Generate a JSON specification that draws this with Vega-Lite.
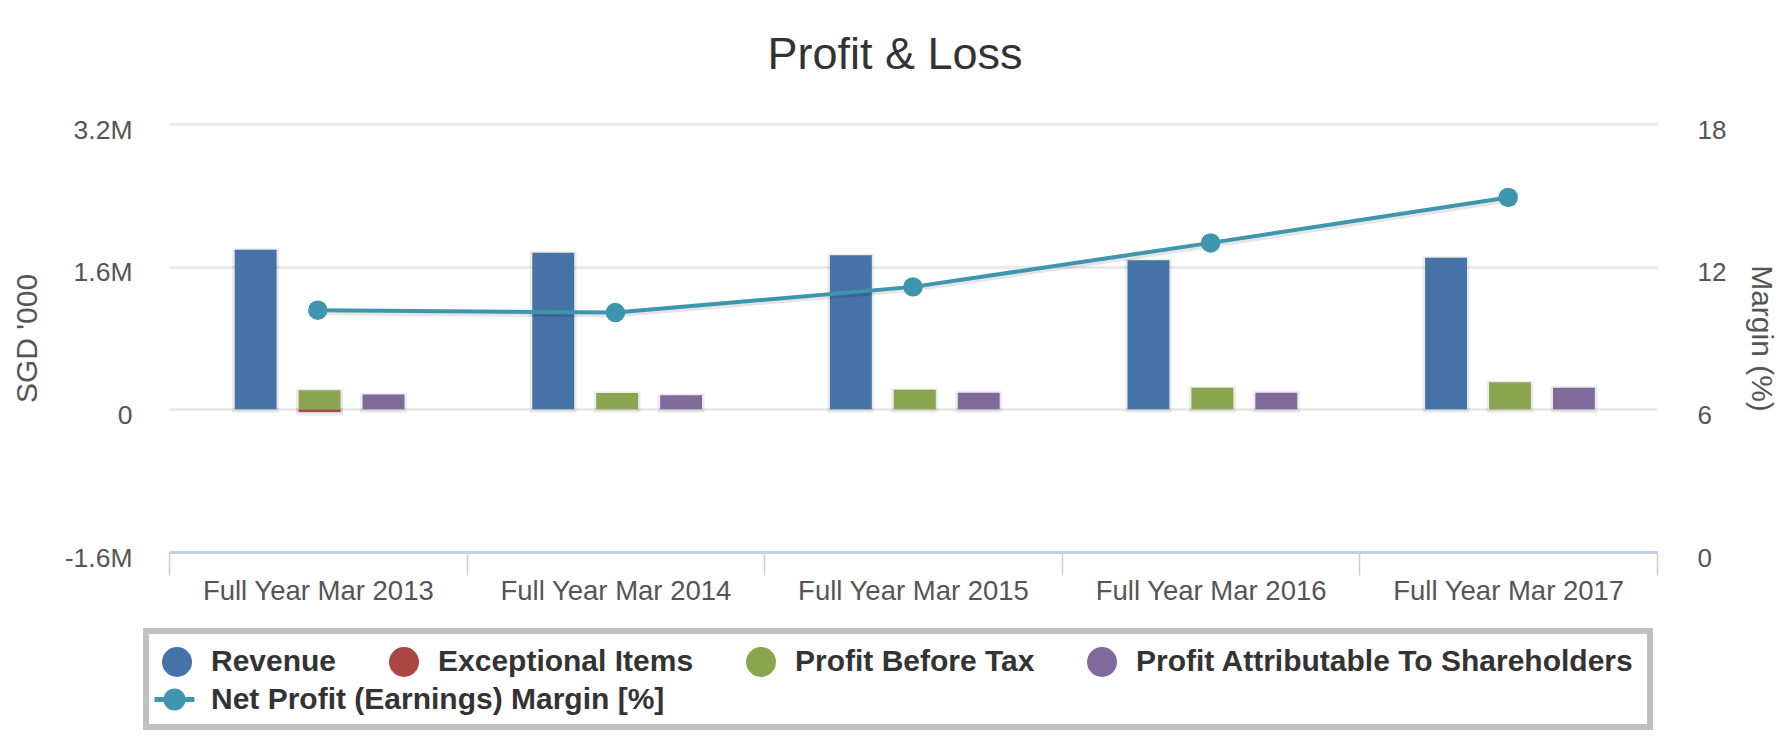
{
  "$schema": "https://vega.github.io/schema/vega-lite/v6.json",
  "autosize": "none",
  "width": 1488,
  "height": 428,
  "padding": {"left": 169, "top": 124, "right": 133, "bottom": 200},
  "background": "#ffffff",
  "config": {"font": "Liberation Sans", "view": {"stroke": null}},
  "title": {
    "text": "Profit & Loss",
    "fontSize": 45,
    "fontWeight": "normal",
    "color": "#333333",
    "anchor": "middle",
    "frame": "group",
    "dx": -18,
    "baseline": "alphabetic",
    "offset": 3
  },
  "datasets": {
    "bars": [
      {"period": "Full Year Mar 2013", "series": "Revenue", "slot": "s0", "value": 1791000},
      {"period": "Full Year Mar 2013", "series": "Exceptional Items", "slot": "s1", "value": -30000},
      {"period": "Full Year Mar 2013", "series": "Profit Before Tax", "slot": "s1", "value": 213000},
      {"period": "Full Year Mar 2013", "series": "Profit Attributable To Shareholders", "slot": "s2", "value": 165000},
      {"period": "Full Year Mar 2014", "series": "Revenue", "slot": "s0", "value": 1757000},
      {"period": "Full Year Mar 2014", "series": "Exceptional Items", "slot": "s1", "value": 0},
      {"period": "Full Year Mar 2014", "series": "Profit Before Tax", "slot": "s1", "value": 183000},
      {"period": "Full Year Mar 2014", "series": "Profit Attributable To Shareholders", "slot": "s2", "value": 157000},
      {"period": "Full Year Mar 2015", "series": "Revenue", "slot": "s0", "value": 1727000},
      {"period": "Full Year Mar 2015", "series": "Exceptional Items", "slot": "s1", "value": 0},
      {"period": "Full Year Mar 2015", "series": "Profit Before Tax", "slot": "s1", "value": 221000},
      {"period": "Full Year Mar 2015", "series": "Profit Attributable To Shareholders", "slot": "s2", "value": 187000},
      {"period": "Full Year Mar 2016", "series": "Revenue", "slot": "s0", "value": 1671000},
      {"period": "Full Year Mar 2016", "series": "Exceptional Items", "slot": "s1", "value": 0},
      {"period": "Full Year Mar 2016", "series": "Profit Before Tax", "slot": "s1", "value": 243000},
      {"period": "Full Year Mar 2016", "series": "Profit Attributable To Shareholders", "slot": "s2", "value": 187000},
      {"period": "Full Year Mar 2017", "series": "Revenue", "slot": "s0", "value": 1701000},
      {"period": "Full Year Mar 2017", "series": "Exceptional Items", "slot": "s1", "value": 0},
      {"period": "Full Year Mar 2017", "series": "Profit Before Tax", "slot": "s1", "value": 303000},
      {"period": "Full Year Mar 2017", "series": "Profit Attributable To Shareholders", "slot": "s2", "value": 243000}
    ],
    "margin": [
      {"period": "Full Year Mar 2013", "series": "Net Profit (Earnings) Margin [%]", "margin": 10.17},
      {"period": "Full Year Mar 2014", "series": "Net Profit (Earnings) Margin [%]", "margin": 10.07},
      {"period": "Full Year Mar 2015", "series": "Net Profit (Earnings) Margin [%]", "margin": 11.15},
      {"period": "Full Year Mar 2016", "series": "Net Profit (Earnings) Margin [%]", "margin": 13.0},
      {"period": "Full Year Mar 2017", "series": "Net Profit (Earnings) Margin [%]", "margin": 14.91}
    ]
  },
  "encoding": {
    "x": {
      "field": "period",
      "type": "nominal",
      "sort": null,
      "scale": {
        "domain": ["Full Year Mar 2013", "Full Year Mar 2014", "Full Year Mar 2015", "Full Year Mar 2016", "Full Year Mar 2017"],
        "paddingInner": 0,
        "paddingOuter": 0
      },
      "axis": {
        "title": null,
        "labelAngle": 0,
        "labelFontSize": 27.5,
        "labelColor": "#555555",
        "labelPadding": 2,
        "labelLimit": 0,
        "tickBand": "extent",
        "tickSize": 23,
        "tickColor": "#c0d0e0",
        "tickWidth": 1.5,
        "domainColor": "#c0d0e0",
        "domainWidth": 3,
        "grid": false,
        "zindex": 1
      }
    }
  },
  "layer": [
    {
      "data": {"name": "bars"},
      "encoding": {
        "xOffset": {
          "field": "slot",
          "type": "nominal",
          "scale": {"domain": ["s0", "s1", "s2"], "paddingInner": 0.345, "paddingOuter": 1.203, "align": 0.514}
        },
        "y": {
          "field": "value",
          "type": "quantitative",
          "scale": {"domain": [-1600000, 3200000], "nice": false},
          "axis": {
            "values": [-1600000, 0, 1600000, 3200000],
            "labelExpr": "datum.value == 0 ? '0' : (datum.value < 0 ? '-' : '') + format(abs(datum.value) / 1000000, '.1f') + 'M'",
            "title": "SGD '000",
            "titleFontSize": 30,
            "titleFontWeight": "normal",
            "titleColor": "#555555",
            "titleAngle": -90,
            "titleX": -142,
            "titleY": 214,
            "titleAlign": "center",
            "titleBaseline": "middle",
            "labelFontSize": 26.5,
            "labelColor": "#555555",
            "labelPadding": 37,
            "labelOffset": 6,
            "labelBaseline": "middle",
            "ticks": false,
            "domain": false,
            "grid": true,
            "gridColor": "#e6e6e6",
            "gridWidth": 2.5,
            "zindex": 0
          }
        }
      },
      "layer": [
        {
          "transform": [{"filter": "datum.value != 0"}],
          "mark": {
            "type": "bar",
            "fill": "#000000",
            "fillOpacity": 0.03,
            "stroke": "#000000",
            "strokeOpacity": 0.08,
            "strokeWidth": 5,
            "xOffset": 1.5,
            "yOffset": 1
          }
        },
        {
          "mark": {"type": "bar"},
          "encoding": {
            "color": {
              "field": "series",
              "type": "nominal",
              "scale": {
                "domain": ["Revenue", "Exceptional Items", "Profit Before Tax", "Profit Attributable To Shareholders"],
                "range": ["#4572a7", "#aa4643", "#89a54e", "#80699b"]
              },
              "legend": {
                "title": "\u00a0",
                "titleOrient": "bottom",
                "titleFontSize": 30,
                "titlePadding": 4,
                "orient": "none",
                "legendX": -23,
                "legendY": 507,
                "direction": "horizontal",
                "columnPadding": 52,
                "symbolType": "circle",
                "symbolSize": 900,
                "symbolStrokeWidth": 0,
                "labelOffset": 19,
                "labelFontSize": 30,
                "labelFontWeight": "bold",
                "labelColor": "#333333",
                "labelLimit": 2000,
                "padding": 16,
                "strokeColor": "#c0c0c0",
                "encode": {
                  "legend": {"update": {"strokeWidth": {"value": 6}}},
                  "symbols": {"update": {"opacity": {"value": 1}}}
                }
              }
            }
          }
        }
      ]
    },
    {
      "data": {"name": "margin"},
      "encoding": {
        "y": {
          "field": "margin",
          "type": "quantitative",
          "scale": {"domain": [0, 18], "nice": false},
          "axis": {
            "orient": "right",
            "values": [0, 6, 12, 18],
            "title": "Margin (%)",
            "titleFontSize": 30,
            "titleFontWeight": "normal",
            "titleColor": "#555555",
            "titleAngle": 90,
            "titleX": 103,
            "titleY": 214,
            "titleAlign": "center",
            "titleBaseline": "middle",
            "labelFontSize": 26,
            "labelColor": "#555555",
            "labelPadding": 40,
            "labelOffset": 6,
            "labelBaseline": "middle",
            "ticks": false,
            "domain": false,
            "grid": false
          }
        }
      },
      "layer": [
        {
          "mark": {"type": "line", "color": "#000000", "opacity": 0.1, "strokeWidth": 6, "xOffset": 1, "yOffset": 2}
        },
        {
          "mark": {"type": "line", "strokeWidth": 4},
          "encoding": {
            "stroke": {
              "field": "series",
              "type": "nominal",
              "scale": {"domain": ["Net Profit (Earnings) Margin [%]"], "range": ["#3d96ae"]},
              "legend": {
                "title": null,
                "orient": "none",
                "legendX": -12,
                "legendY": 558,
                "symbolSize": 900,
                "labelOffset": 19,
                "labelFontSize": 30,
                "labelFontWeight": "bold",
                "labelColor": "#333333",
                "labelLimit": 2000,
                "padding": 0,
                "encode": {
                  "symbols": {
                    "update": {
                      "shape": {"value": "M-1.33,0L1.33,0M0.57,0A0.57,0.57,0,1,1,-0.57,0A0.57,0.57,0,1,1,0.57,0Z"},
                      "fill": {"value": "#3d96ae"},
                      "stroke": {"value": "#3d96ae"},
                      "strokeWidth": {"value": 5},
                      "opacity": {"value": 1}
                    }
                  }
                }
              }
            }
          }
        },
        {
          "mark": {"type": "circle", "size": 380, "opacity": 1, "color": "#3d96ae"}
        }
      ]
    }
  ],
  "resolve": {"scale": {"y": "independent"}}
}
